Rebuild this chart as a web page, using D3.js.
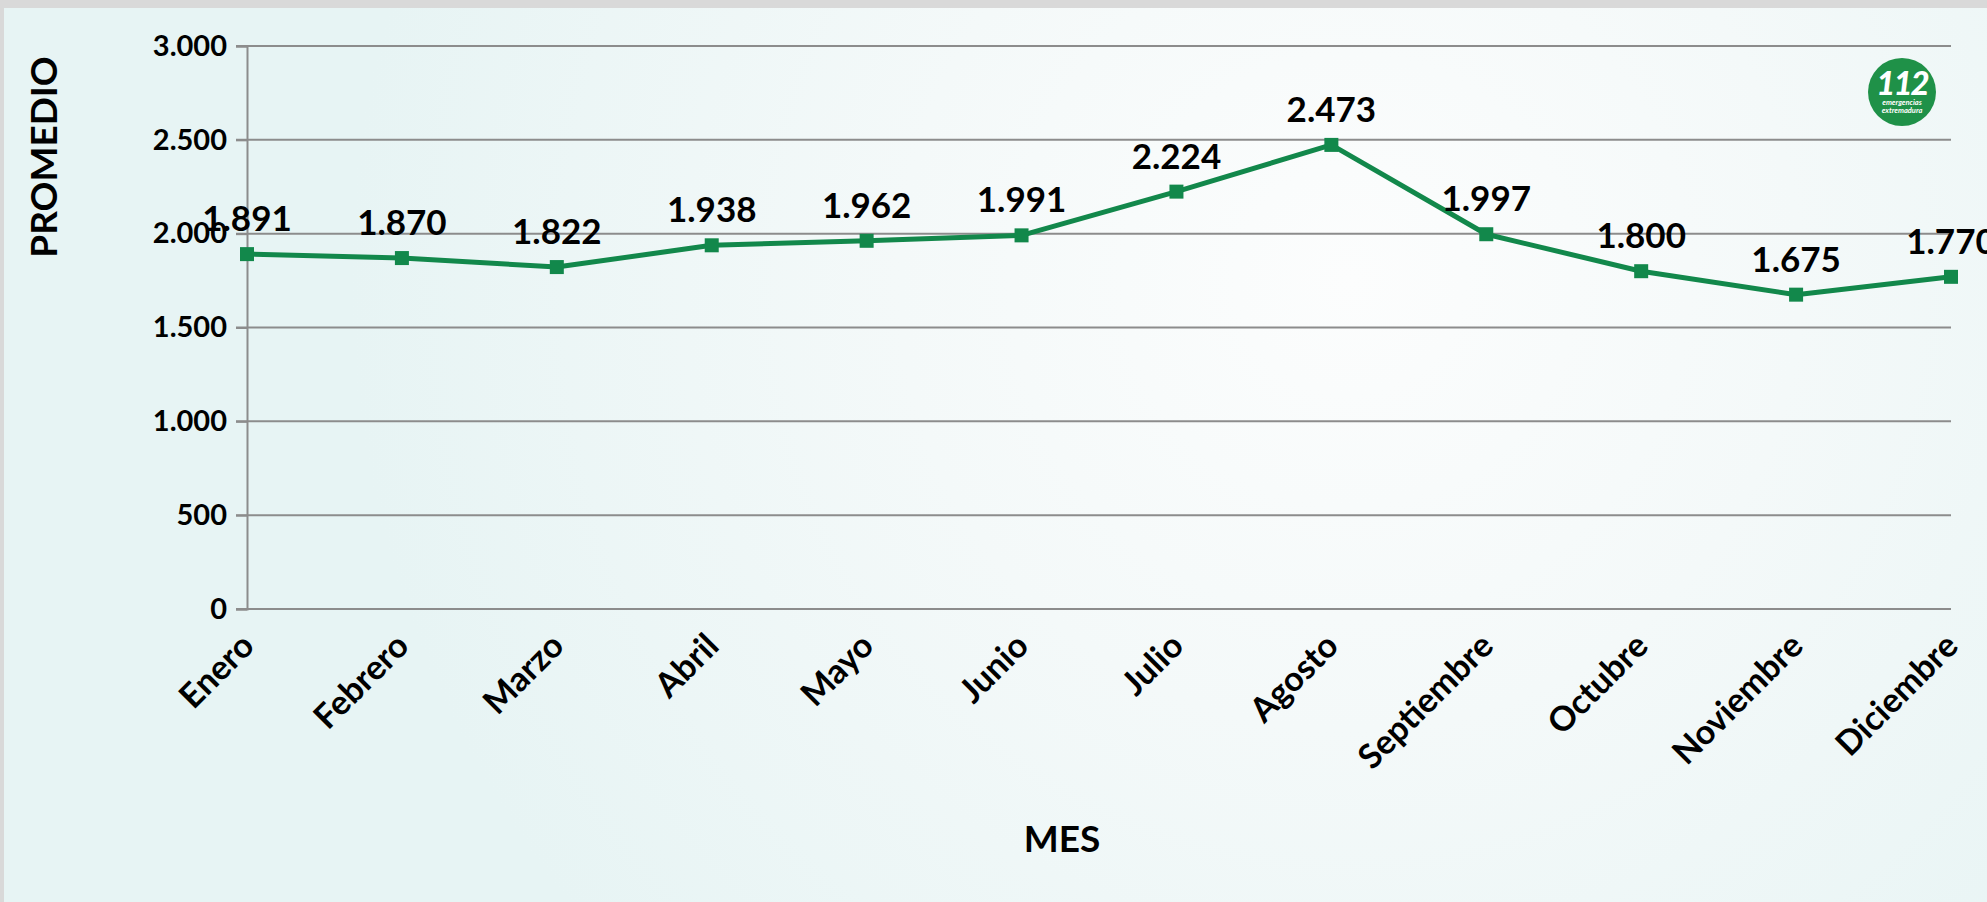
<!DOCTYPE html>
<html>
<head>
<meta charset="utf-8">
<script src="https://cdn.jsdelivr.net/npm/d3@7"></script>
<style>
  html, body { margin: 0; padding: 0; background: #d9d9d9; overflow: hidden; }
  svg { display: block; font-family: Lato, "Open Sans", sans-serif; }
</style>
</head>
<body>
<svg id="chart"></svg>
<script>
const months = ["Enero", "Febrero", "Marzo", "Abril", "Mayo", "Junio", "Julio",
    "Agosto", "Septiembre", "Octubre", "Noviembre", "Diciembre"];
const promedio = [1891, 1870, 1822, 1938, 1962, 1991, 2224, 2473, 1997, 1800, 1675, 1770];
const yTicks = [0, 500, 1000, 1500, 2000, 2500, 3000];

const W = 1987, H = 902;
const green = "#12884b";
const es = d3.formatLocale({ decimal: ",", thousands: ".", grouping: [3], currency: ["", " €"] });
const fmt = es.format(",d");

const svg = d3.select("#chart").attr("width", W).attr("height", H);

// background panel
const defs = svg.append("defs");
const grad = defs.append("radialGradient")
    .attr("id", "bg")
    .attr("gradientUnits", "userSpaceOnUse")
    .attr("cx", 1350).attr("cy", 280).attr("r", 1000);
grad.append("stop").attr("offset", "0%").attr("stop-color", "#fcfdfd");
grad.append("stop").attr("offset", "45%").attr("stop-color", "#f4f9f9");
grad.append("stop").attr("offset", "100%").attr("stop-color", "#e7f4f4");

svg.append("rect").attr("x", 0).attr("y", 0).attr("width", W).attr("height", H).attr("fill", "#d9d9d9");
svg.append("rect").attr("x", 4).attr("y", 8).attr("width", W - 4).attr("height", H - 8).attr("fill", "url(#bg)");

const x = d3.scalePoint().domain(months).range([247, 1951]);
const y = d3.scaleLinear().domain([0, 3000]).range([609, 46]);

// gridlines
svg.append("g")
    .selectAll("line")
    .data(yTicks)
    .enter()
    .append("line")
    .attr("x1", 236)
    .attr("x2", x.range()[1])
    .attr("y1", d => y(d))
    .attr("y2", d => y(d))
    .attr("stroke", "#8c8c8c")
    .attr("stroke-width", 2);

// y axis
const yAxis = svg.append("g")
    .attr("transform", `translate(${x.range()[0]},0)`)
    .call(d3.axisLeft(y).tickValues(yTicks).tickFormat(fmt).tickSize(11).tickPadding(9));
yAxis.select(".domain").attr("stroke", "#8c8c8c").attr("stroke-width", 2);
yAxis.selectAll(".tick line").attr("stroke", "#8c8c8c").attr("stroke-width", 2);
yAxis.selectAll("text")
    .attr("fill", "#000")
    .style("font-size", "29px")
    .style("font-weight", 700)
    .style("font-family", "Lato, 'Open Sans', sans-serif");

// x labels
svg.append("g")
    .selectAll("text")
    .data(months)
    .enter()
    .append("text")
    .attr("transform", d => `translate(${x(d) + 9},${648}) rotate(-45)`)
    .attr("text-anchor", "end")
    .attr("font-size", 34)
    .attr("font-weight", 700)
    .text(d => d);

// axis titles
svg.append("text")
    .attr("transform", "translate(57,157) rotate(-90)")
    .attr("text-anchor", "middle")
    .attr("font-size", 37)
    .attr("font-weight", 700)
    .text("PROMEDIO");

svg.append("text")
    .attr("x", 1062)
    .attr("y", 852)
    .attr("text-anchor", "middle")
    .attr("font-size", 37)
    .attr("font-weight", 700)
    .text("MES");

// line
const data = months.map((m, i) => ({ mes: m, valor: promedio[i] }));
const line = d3.line().x(d => x(d.mes)).y(d => y(d.valor));

svg.append("path")
    .datum(data)
    .attr("d", line)
    .attr("fill", "none")
    .attr("stroke", green)
    .attr("stroke-width", 5)
    .attr("stroke-linejoin", "round");

svg.selectAll("rect.marker")
    .data(data)
    .enter()
    .append("rect")
    .attr("class", "marker")
    .attr("x", d => x(d.mes) - 7)
    .attr("y", d => y(d.valor) - 7)
    .attr("width", 14)
    .attr("height", 14)
    .attr("fill", green);

svg.selectAll("text.value")
    .data(data)
    .enter()
    .append("text")
    .attr("class", "value")
    .attr("x", d => x(d.mes))
    .attr("y", d => y(d.valor) - 23)
    .attr("text-anchor", "middle")
    .attr("font-size", 35)
    .attr("font-weight", 700)
    .text(d => fmt(d.valor));

// logo
const logo = svg.append("g").attr("transform", "translate(1902,92)");
logo.append("circle").attr("r", 34).attr("fill", "#1f9148");
logo.append("text")
    .attr("y", 3)
    .attr("text-anchor", "middle")
    .attr("font-size", 33)
    .attr("font-weight", 900)
    .attr("font-style", "italic")
    .attr("fill", "#fff")
    .attr("letter-spacing", -2)
    .text("112");
logo.append("text")
    .attr("y", 13)
    .attr("text-anchor", "middle")
    .attr("font-size", 7.5)
    .attr("font-weight", 700)
    .attr("font-style", "italic")
    .attr("fill", "#fff")
    .text("emergencias");
logo.append("text")
    .attr("y", 21)
    .attr("text-anchor", "middle")
    .attr("font-size", 7.5)
    .attr("font-weight", 700)
    .attr("font-style", "italic")
    .attr("fill", "#fff")
    .text("extremadura");
</script>
</body>
</html>
